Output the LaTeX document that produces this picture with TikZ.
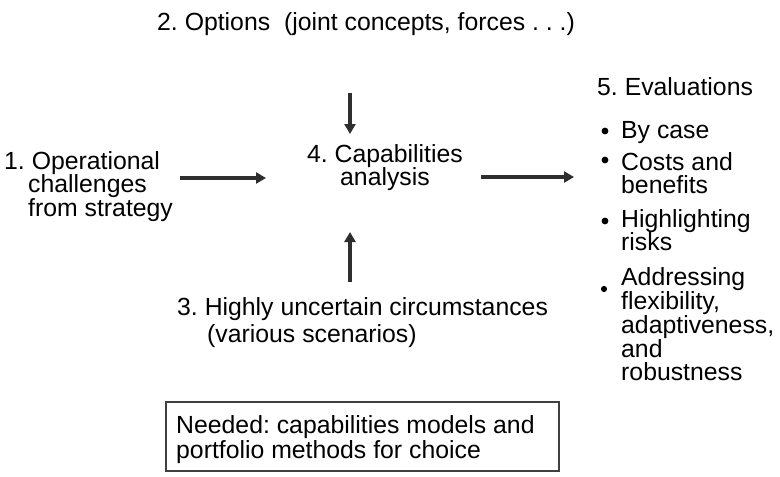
\documentclass[tikz,border=0pt]{standalone}
\usepackage{fontspec}
\setmainfont{Liberation Sans}
\frenchspacing
\usetikzlibrary{arrows.meta}
\definecolor{arrowgray}{HTML}{2E2E2E}
\definecolor{boxgray}{HTML}{404040}
% stacked lines whose first baseline is the node baseline
\newcommand\leftstack[1]{\vtop{\halign{##\hfil\cr#1\crcr}}}
\newcommand\centerstack[1]{\vtop{\halign{\hfil##\hfil\cr#1\crcr}}}
\begin{document}
\begin{tikzpicture}[x=1pt,y=-1pt,
  txt/.style={anchor=base west, inner sep=0pt, font=\fontsize{24.8}{23.5}\selectfont},
  flow/.style={line width=3.3pt, draw=arrowgray, -{Triangle[length=10pt,width=11pt]}},
  bullet/.style={fill=black}]
\useasboundingbox[fill=white] (0,0) rectangle (780,477);

% step texts
\node[txt] (options) at (157,30) {2. Options\ \ (joint concepts, forces .\ .\ .)};
\node[txt] (challenges) at (4,169) {\leftstack{1. Operational\cr\hskip24pt challenges\cr\hskip24pt from strategy}};
\node[txt, anchor=base] (analysis) at (385,162) {\centerstack{4. Capabilities\cr analysis}};
\node[txt, font=\fontsize{24.8}{27}\selectfont] (uncertain) at (177,315)
  {\leftstack{3. Highly uncertain circumstances\cr\hskip30pt (various scenarios)}};

% evaluations list
\node[txt] (evals) at (597,95) {5. Evaluations};
\node[txt] (bycase) at (621,138) {By case};
\node[txt] (costs) at (621,170) {\leftstack{Costs and\cr benefits}};
\node[txt] (risks) at (621,227) {\leftstack{Highlighting\cr risks}};
\node[txt, font=\fontsize{24.8}{22.8}\selectfont] (flex) at (621,285)
  {\leftstack{Addressing\cr flexibility,\cr adaptiveness,\cr and\cr robustness}};
\fill[bullet] (605,131) circle (3.4pt);
\fill[bullet] (605,160) circle (3.4pt);
\fill[bullet] (605,221) circle (3.4pt);
\fill[bullet] (604,289) circle (3.1pt);

% needs box
\node[draw=boxgray, line width=2pt, anchor=north west, minimum width=393pt,
  minimum height=69pt, inner sep=0pt] (needbox) at (165,401) {};
\node[txt, font=\fontsize{24.8}{25}\selectfont] (needed) at (176,433)
  {\leftstack{Needed: capabilities models and\cr portfolio methods for choice}};

% arrow end points
\coordinate (inL) at (180,178);  \coordinate (inR) at (266,178);
\coordinate (topA) at (350,93);  \coordinate (topB) at (350,134);
\coordinate (outL) at (481,177); \coordinate (outR) at (574,177);
\coordinate (botA) at (350,282); \coordinate (botB) at (350,232);

\draw[flow] (inL) -- (inR);
\draw[flow] (topA) -- (topB);
\draw[flow] (outL) -- (outR);
\draw[flow] (botA) -- (botB);
\end{tikzpicture}
\end{document}
